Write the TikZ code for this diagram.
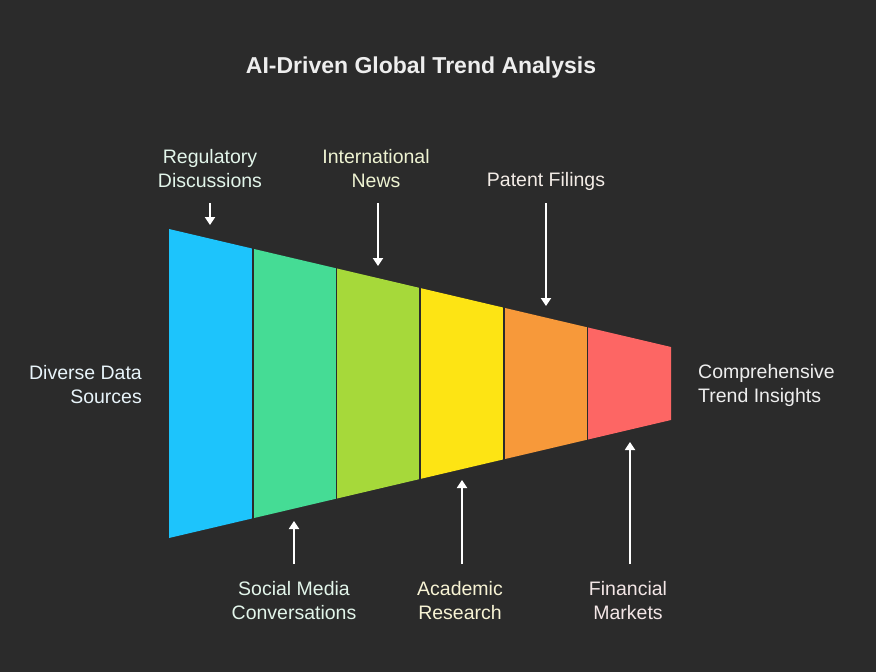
\documentclass[tikz,border=0pt]{standalone}
\usepackage{fontspec}
\setmainfont{Liberation Sans}
\usetikzlibrary{arrows.meta}
\definecolor{bg}{HTML}{2B2B2B}
\definecolor{cBlue}{HTML}{1DC4FC}
\definecolor{cGreen}{HTML}{45DC95}
\definecolor{cLime}{HTML}{A6D93A}
\definecolor{cYellow}{HTML}{FDE414}
\definecolor{cOrange}{HTML}{F7993A}
\definecolor{cRed}{HTML}{FD6664}
\definecolor{tBlue}{HTML}{E8F4FA}
\definecolor{tGreen}{HTML}{E2F5EA}
\definecolor{tLime}{HTML}{EEF3D2}
\definecolor{tYellow}{HTML}{F7F3D4}
\definecolor{tOrange}{HTML}{F3ECE6}
\definecolor{tRed}{HTML}{F3E6E6}
\definecolor{tWhite}{HTML}{EEEEEE}
\tikzset{
  lbl/.style={font=\fontsize{19.5}{24}\selectfont, align=center, inner sep=0pt},
  seg/.style={draw=bg, line width=1.6pt},
  arr/.style={draw=white, line width=1.8pt, -{Triangle[width=10pt,length=8pt]}}
}
\begin{document}
\begin{tikzpicture}[x=1pt,y=-1pt]
\fill[bg] (0,0) rectangle (876,672);
\useasboundingbox (0,0) rectangle (876,672);
% funnel segments
\foreach \a/\b/\c in {169/252.7/cBlue,252.7/336.3/cGreen,336.3/420/cLime,420/503.7/cYellow,503.7/587.3/cOrange,587.3/671/cRed}{
  \fill[\c] (\a,{229+(\a-169)*0.23506}) -- (\b,{229+(\b-169)*0.23506}) -- (\b,{538-(\b-169)*0.23506}) -- (\a,{538-(\a-169)*0.23506}) -- cycle;
}
\foreach \a in {252.7,336.3,420,503.7,587.3}{
  \draw[seg] (\a,{229+(\a-169)*0.23506-1}) -- (\a,{538-(\a-169)*0.23506+1});
}
% title
\node[font=\bfseries\fontsize{23}{26}\selectfont, text=tWhite] (title) at (421,68) {AI-Driven Global Trend Analysis};
% side labels
\node[lbl, text=tBlue, align=right, anchor=east] (src) at (142,385) {Diverse Data\\Sources};
\node[lbl, text=tWhite, align=left, anchor=west] (out) at (698,385) {Comprehensive\\Trend Insights};
% top labels
\node[lbl, text=tGreen] (reg) at (210,169) {Regulatory\\Discussions};
\node[lbl, text=tLime] (intl) at (376,169) {International\\News};
\node[lbl, text=tOrange] (pat) at (546,181) {Patent Filings};
% bottom labels
\node[lbl, text=tGreen] (soc) at (294,601) {Social Media\\Conversations};
\node[lbl, text=tYellow] (acad) at (460,601) {Academic\\Research};
\node[lbl, text=tRed] (fin) at (628,601) {Financial\\Markets};
% arrow endpoints
\coordinate (regA) at (210,203); \coordinate (regB) at (210,225);
\coordinate (intlA) at (378,203); \coordinate (intlB) at (378,266);
\coordinate (patA) at (546,203); \coordinate (patB) at (546,306);
\coordinate (socA) at (294,564); \coordinate (socB) at (294,521);
\coordinate (acadA) at (462,564); \coordinate (acadB) at (462,480);
\coordinate (finA) at (630,564); \coordinate (finB) at (630,442);
\draw[arr] (regA) -- (regB);
\draw[arr] (intlA) -- (intlB);
\draw[arr] (patA) -- (patB);
\draw[arr] (socA) -- (socB);
\draw[arr] (acadA) -- (acadB);
\draw[arr] (finA) -- (finB);
\end{tikzpicture}
\end{document}
